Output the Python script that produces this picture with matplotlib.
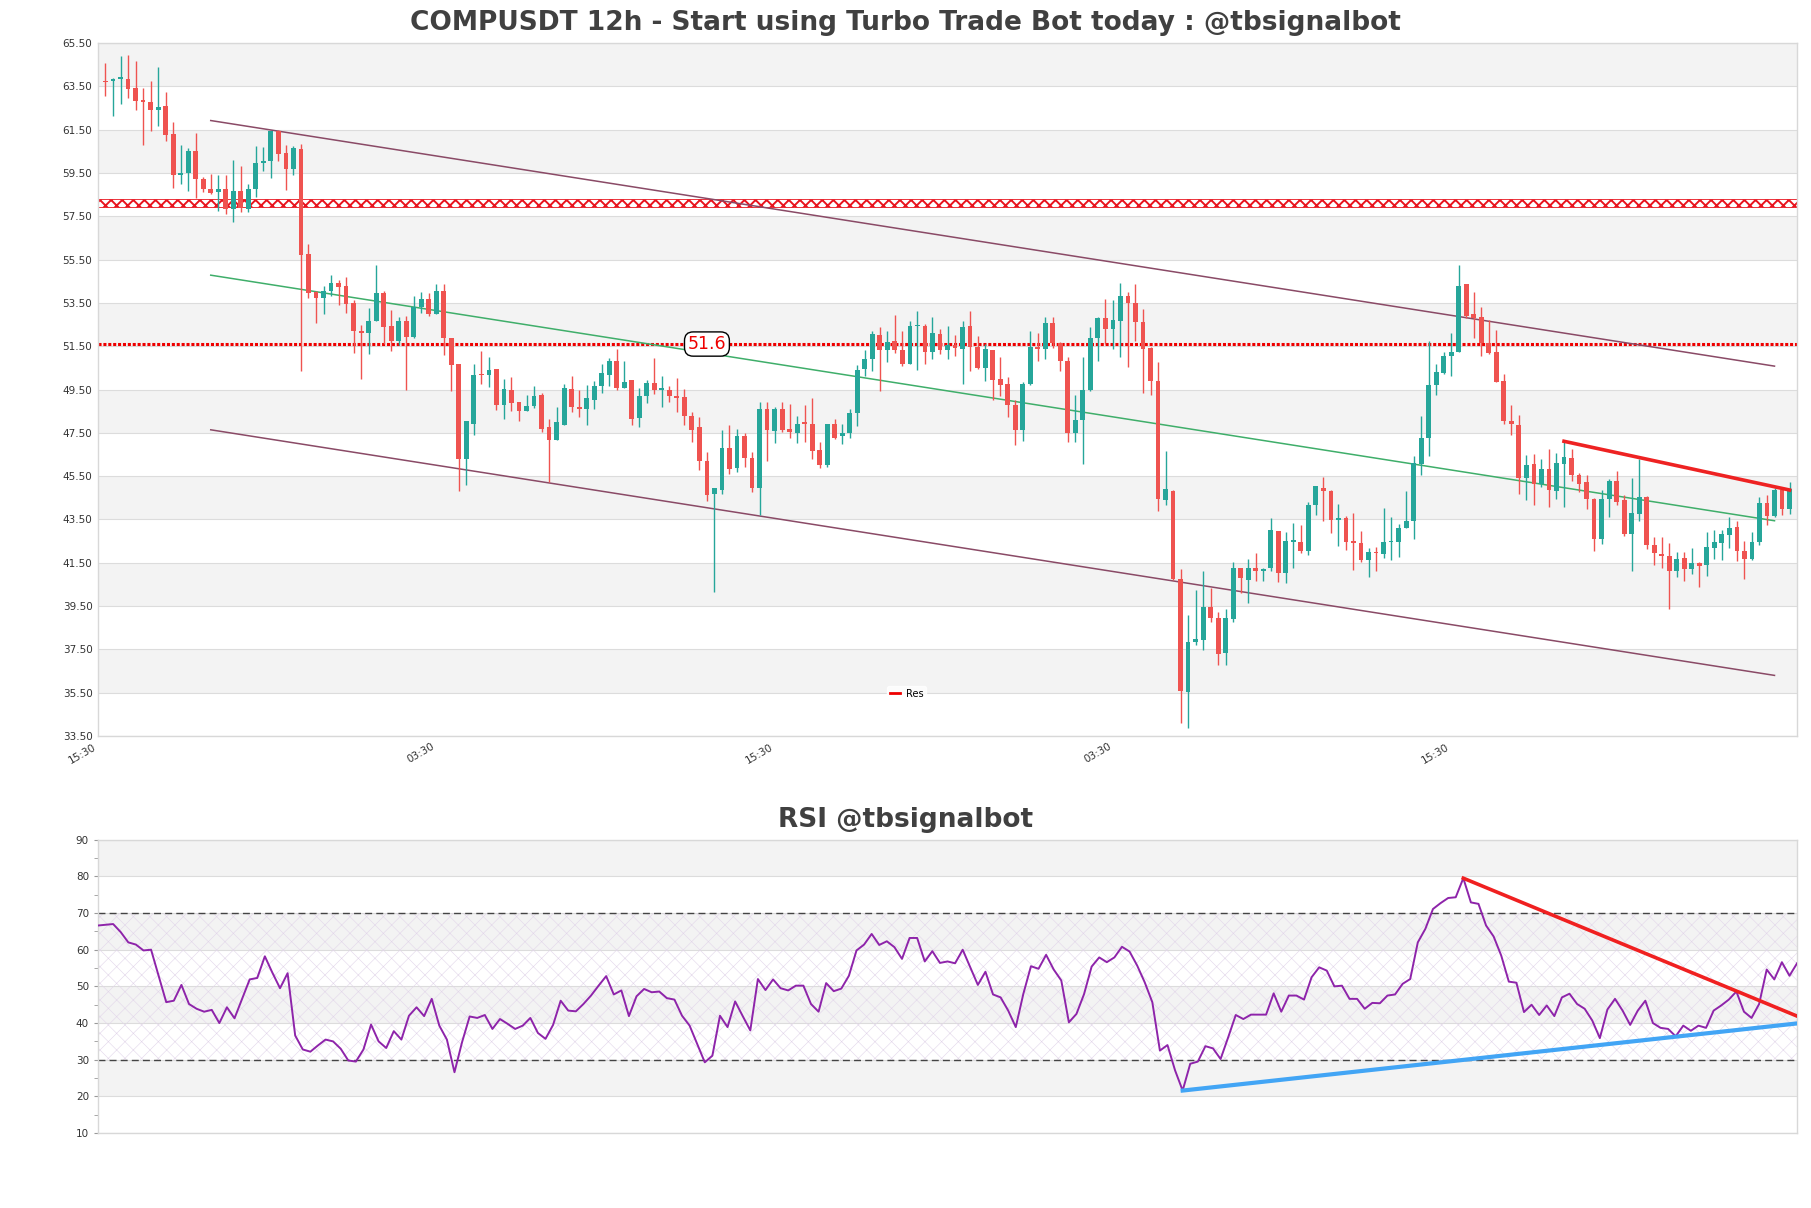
import numpy as np
import matplotlib
matplotlib.use("Agg")
import matplotlib.pyplot as plt
from matplotlib.lines import Line2D

# ---------------- data ----------------
opens = [63.73, 63.73, 63.85, 63.84, 63.42, 62.88, 62.78, 62.42, 62.58, 61.30,
         59.40, 59.50, 60.50, 59.20, 58.76, 58.60, 58.76, 57.85, 58.65, 57.85,
         58.76, 59.96, 60.04, 61.45, 60.42, 59.70, 60.60, 55.76, 54.00, 53.73,
         54.03, 54.42, 54.27, 53.50, 52.19, 52.11, 52.65, 53.96, 52.42, 51.75,
         52.65, 51.92, 53.30, 53.68, 52.99, 54.07, 51.88, 50.68, 46.28, 47.90,
         50.18, 50.15, 50.44, 48.80, 49.46, 48.92, 48.52, 48.72, 49.26, 47.75,
         47.15, 47.88, 49.52, 48.70, 48.59, 49.01, 49.65, 50.19, 50.82, 49.58,
         49.93, 48.19, 49.19, 49.78, 49.50, 49.50, 49.21, 49.16, 48.28, 47.75,
         46.21, 44.67, 44.85, 46.78, 45.88, 47.35, 46.32, 44.93, 48.62, 47.59,
         48.58, 47.70, 47.47, 47.98, 47.93, 46.70, 46.03, 47.93, 47.36, 47.50,
         48.42, 50.43, 50.93, 52.03, 51.31, 51.73, 51.34, 50.70, 52.42, 52.42,
         51.23, 52.08, 51.31, 51.57, 51.36, 52.43, 51.46, 50.49, 51.34, 50.00,
         49.77, 48.77, 47.62, 49.74, 51.46, 51.37, 52.55, 51.63, 50.83, 47.50,
         48.09, 49.50, 51.86, 52.78, 52.29, 52.66, 53.83, 53.50, 52.60, 51.43,
         49.89, 44.40, 44.83, 40.75, 35.55, 37.86, 37.94, 39.47, 38.97, 37.35,
         38.90, 41.24, 40.70, 41.27, 41.13, 41.24, 42.96, 41.01, 42.47, 42.47,
         42.04, 44.17, 44.97, 44.83, 43.47, 43.58, 42.47, 42.40, 41.63, 42.01,
         41.90, 42.44, 42.47, 43.12, 43.43, 46.04, 47.24, 49.70, 50.24, 51.06,
         51.24, 54.35, 53.01, 52.86, 51.63, 51.21, 49.88, 48.03, 47.88, 45.42,
         46.08, 45.15, 45.85, 44.80, 46.08, 46.34, 45.57, 45.23, 44.46, 42.62,
         44.46, 45.26, 44.38, 42.85, 43.74, 44.54, 42.34, 41.92, 41.82, 41.11,
         41.72, 41.20, 41.51, 41.38, 42.20, 42.43, 42.80, 43.15, 42.05, 41.66,
         42.46, 44.26, 43.65, 44.85, 43.97]
highs = [64.58, 63.90, 64.88, 64.96, 64.68, 63.40, 63.73, 64.38, 63.24, 61.85,
         60.80, 60.65, 61.35, 59.30, 59.45, 59.42, 59.42, 60.10, 59.80, 59.00,
         60.73, 60.70, 61.45, 61.50, 60.77, 60.73, 60.84, 56.20, 54.03, 54.27,
         54.80, 54.58, 54.68, 53.62, 52.46, 53.26, 55.24, 54.07, 53.19, 52.83,
         52.88, 53.80, 54.00, 53.96, 54.37, 54.37, 51.88, 50.68, 48.06, 50.68,
         51.26, 50.98, 50.44, 50.00, 50.06, 48.92, 49.26, 49.64, 49.34, 48.15,
         48.67, 49.75, 50.13, 49.47, 49.73, 49.90, 50.70, 50.96, 51.35, 50.81,
         49.93, 49.58, 49.96, 50.96, 50.13, 49.67, 50.04, 49.52, 48.47, 48.24,
         46.62, 44.93, 47.62, 47.88, 47.70, 47.47, 46.62, 48.93, 48.93, 48.70,
         48.93, 48.81, 48.28, 48.78, 49.12, 47.08, 47.93, 48.13, 47.90, 48.62,
         50.62, 51.31, 52.20, 52.39, 52.19, 52.96, 52.19, 52.65, 53.11, 52.54,
         52.85, 52.31, 52.43, 52.03, 52.66, 53.11, 51.97, 51.62, 51.34, 51.00,
         50.08, 49.00, 49.85, 52.20, 52.13, 52.86, 52.86, 51.70, 50.98, 49.27,
         51.00, 52.40, 52.86, 53.66, 53.63, 54.44, 54.01, 54.35, 53.20, 51.45,
         50.78, 46.66, 44.85, 41.21, 39.09, 40.24, 41.13, 40.32, 39.24, 39.37,
         41.55, 41.26, 41.66, 41.93, 41.24, 43.55, 42.98, 42.90, 43.35, 43.24,
         44.29, 45.06, 45.44, 44.85, 44.20, 43.67, 43.78, 42.96, 42.17, 42.24,
         44.01, 43.63, 43.29, 44.83, 46.44, 48.29, 51.73, 50.70, 51.21, 52.13,
         55.27, 54.37, 54.01, 53.32, 52.70, 52.24, 50.23, 48.77, 48.31, 46.46,
         46.54, 46.28, 46.77, 46.58, 47.11, 46.77, 45.65, 45.54, 44.48, 44.85,
         45.35, 45.72, 44.62, 45.42, 46.28, 44.58, 42.69, 42.69, 42.43, 42.00,
         42.00, 42.18, 41.54, 42.92, 43.03, 43.00, 43.62, 43.42, 42.49, 42.92,
         44.54, 44.62, 44.95, 44.95, 45.23]
lows = [63.04, 62.15, 62.70, 62.96, 62.42, 60.80, 61.42, 61.65, 60.96, 58.80,
        59.00, 58.65, 58.35, 58.62, 58.53, 57.76, 57.62, 57.22, 57.68, 57.68,
        58.38, 59.58, 59.27, 60.07, 58.73, 59.42, 50.35, 53.73, 52.58, 52.99,
        53.80, 53.42, 53.03, 51.18, 50.00, 51.15, 52.65, 51.60, 51.29, 51.54,
        49.49, 51.88, 53.03, 52.88, 52.99, 51.11, 49.41, 44.80, 45.10, 47.40,
        49.75, 49.61, 48.56, 48.15, 48.52, 48.03, 48.49, 48.64, 47.52, 45.22,
        47.15, 47.84, 48.47, 48.24, 47.88, 48.59, 49.32, 49.67, 49.47, 49.55,
        47.88, 47.78, 48.90, 49.28, 48.70, 48.93, 48.47, 47.85, 47.08, 45.78,
        44.35, 40.16, 44.67, 45.62, 45.70, 45.93, 44.75, 43.70, 46.21, 47.01,
        47.55, 47.27, 47.01, 47.08, 46.31, 45.88, 45.93, 47.20, 46.97, 47.26,
        47.82, 50.13, 50.36, 49.43, 50.77, 51.20, 50.59, 50.70, 50.39, 50.66,
        50.90, 51.16, 50.90, 51.03, 49.74, 50.34, 50.45, 49.90, 49.00, 49.19,
        48.23, 46.93, 47.11, 49.70, 50.80, 50.93, 51.40, 50.35, 47.09, 47.09,
        46.06, 49.45, 50.81, 51.58, 51.37, 51.00, 50.55, 51.74, 49.32, 49.27,
        43.89, 44.17, 40.70, 34.09, 33.86, 37.70, 37.47, 38.78, 36.78, 36.78,
        38.75, 40.09, 39.63, 40.66, 40.66, 41.13, 40.63, 40.55, 41.27, 41.93,
        41.86, 43.70, 43.43, 42.86, 42.27, 42.09, 41.17, 41.55, 40.86, 41.12,
        41.70, 41.63, 41.78, 43.10, 42.60, 45.55, 46.44, 49.27, 50.22, 50.13,
        51.22, 52.81, 51.86, 51.06, 51.15, 49.83, 47.92, 47.38, 44.69, 44.38,
        44.18, 45.00, 44.08, 44.43, 44.08, 45.26, 44.77, 43.97, 42.03, 42.38,
        43.62, 44.15, 42.74, 41.11, 43.42, 42.12, 41.42, 41.26, 39.38, 40.85,
        40.65, 41.00, 40.38, 40.89, 41.66, 41.62, 42.18, 41.57, 40.77, 41.62,
        42.34, 43.23, 43.62, 43.69, 43.77]
closes = [63.70, 63.84, 63.88, 63.39, 62.84, 62.76, 62.42, 62.55, 61.27, 59.40,
          59.50, 60.50, 59.20, 58.78, 58.58, 58.76, 57.85, 58.65, 57.88, 58.76,
          59.96, 60.04, 61.45, 60.39, 59.70, 60.65, 55.73, 53.96, 53.73, 54.03,
          54.42, 54.24, 53.46, 52.22, 52.11, 52.65, 53.96, 52.39, 51.75, 52.65,
          51.92, 53.30, 53.68, 52.99, 54.07, 51.88, 50.65, 46.30, 48.06, 50.18,
          50.15, 50.38, 48.80, 49.52, 48.87, 48.49, 48.72, 49.18, 47.69, 47.18,
          47.98, 49.55, 48.70, 48.62, 49.12, 49.67, 50.24, 50.82, 49.55, 49.85,
          48.13, 49.21, 49.78, 49.47, 49.55, 49.19, 49.12, 48.28, 47.62, 46.21,
          44.62, 44.93, 46.78, 45.85, 47.35, 46.32, 44.93, 48.62, 47.62, 48.58,
          47.64, 47.52, 47.93, 47.90, 46.65, 46.00, 47.93, 47.28, 47.51, 48.43,
          50.42, 50.93, 52.05, 51.31, 51.70, 51.31, 50.70, 52.43, 52.45, 51.23,
          52.13, 51.31, 51.57, 51.43, 52.39, 51.46, 50.49, 51.39, 49.93, 49.70,
          48.77, 47.65, 49.77, 51.46, 51.36, 52.55, 51.63, 50.83, 47.50, 48.09,
          49.50, 51.86, 52.78, 52.29, 52.73, 53.83, 53.50, 52.60, 51.37, 49.89,
          44.43, 44.90, 40.75, 35.58, 37.86, 37.97, 39.47, 38.97, 37.27, 38.93,
          41.24, 40.81, 41.27, 41.13, 41.21, 43.01, 41.01, 42.50, 42.50, 42.04,
          44.17, 45.04, 44.81, 43.47, 43.58, 42.47, 42.43, 41.63, 42.01, 41.93,
          42.44, 42.47, 43.12, 43.44, 46.12, 47.24, 49.73, 50.29, 51.06, 51.24,
          54.29, 52.90, 52.81, 51.63, 51.17, 49.86, 48.03, 47.89, 45.42, 46.03,
          45.15, 45.85, 44.85, 46.12, 46.38, 45.54, 45.15, 44.43, 42.62, 44.46,
          45.26, 44.31, 42.85, 43.82, 44.54, 42.31, 41.95, 41.82, 41.11, 41.69,
          41.23, 41.51, 41.35, 42.23, 42.46, 42.85, 43.11, 42.03, 41.66, 42.46,
          44.26, 43.65, 44.85, 43.97, 44.92]

rsi = [66.6, 66.8, 67.0, 64.8, 62.0, 61.4, 59.8, 60.0, 52.9, 45.7,
       46.1, 50.4, 45.2, 43.9, 43.1, 43.6, 40.0, 44.3, 41.3, 46.6,
       51.9, 52.3, 58.2, 53.7, 49.5, 53.6, 36.6, 32.8, 32.2, 33.9,
       35.5, 35.0, 33.0, 29.8, 29.5, 32.8, 39.6, 35.0, 33.2, 37.8,
       35.5, 42.0, 44.3, 41.9, 46.6, 39.3, 35.5, 26.6, 34.8, 41.8,
       41.4, 42.2, 38.4, 41.1, 39.8, 38.4, 39.3, 41.4, 37.3, 35.7,
       39.5, 46.1, 43.4, 43.2, 45.2, 47.5, 50.2, 52.8, 47.8, 48.9,
       41.9, 47.3, 49.3, 48.4, 48.6, 46.8, 46.4, 42.0, 39.3, 34.3,
       29.3, 31.1, 42.0, 38.9, 45.9, 41.9, 38.0, 52.0, 49.0, 51.9,
       49.5, 48.9, 50.2, 50.2, 45.2, 43.1, 50.9, 48.7, 49.4, 52.9,
       59.8, 61.4, 64.3, 61.3, 62.3, 60.7, 57.5, 63.2, 63.2, 56.8,
       59.6, 56.4, 56.8, 56.3, 60.0, 55.2, 50.4, 54.0, 47.8, 47.0,
       43.4, 38.9, 48.0, 55.5, 54.8, 58.6, 54.6, 51.6, 40.2, 42.5,
       47.9, 55.4, 57.9, 56.6, 57.9, 60.8, 59.5, 55.7, 51.1, 45.7,
       32.5, 34.0, 27.1, 21.6, 28.9, 29.5, 33.7, 33.1, 30.2, 36.1,
       42.2, 41.1, 42.3, 42.3, 42.3, 48.1, 43.1, 47.5, 47.5, 46.4,
       52.5, 55.2, 54.3, 50.0, 50.2, 46.6, 46.6, 43.9, 45.5, 45.4,
       47.5, 47.8, 50.7, 52.0, 62.0, 65.7, 71.1, 72.7, 74.1, 74.3,
       79.5, 72.9, 72.5, 66.6, 63.6, 58.4, 51.3, 51.0, 43.0, 45.0,
       42.2, 44.8, 41.9, 47.0, 48.0, 45.2, 43.9, 40.7, 35.9, 43.7,
       46.6, 43.4, 39.5, 43.4, 46.1, 40.0, 38.7, 38.4, 36.4, 39.3,
       37.9, 39.3, 38.7, 43.4, 44.8, 46.4, 48.6, 43.1, 41.4, 45.2,
       54.6, 51.9, 56.6, 52.9, 56.3]

x_tick_pos = [-1, 44, 89, 134, 179]
x_tick_labels = ["15:30", "03:30", "15:30", "03:30", "15:30"]

res_level = 51.6
zone_low, zone_high = 57.93, 58.32
channel_x = [14, 222]
channel_upper = [61.92, 50.58]
channel_mid = [54.78, 43.44]
channel_lower = [47.64, 36.30]
trend_x = [194, 224]
trend_y = [47.11, 44.86]
rsi_support_x = [143, 224]
rsi_support_y = [21.6, 39.9]
rsi_resist_x = [180, 224]
rsi_resist_y = [79.5, 41.9]

# ---------------- figure ----------------
fig = plt.figure(figsize=(18.11, 12.08), dpi=100)
fig.patch.set_facecolor("white")

UP = "#26a69a"
DOWN = "#ef5350"
BAND = "#f3f3f3"
GRID = "#dcdcdc"

ax = fig.add_axes([0.0541, 0.3907, 0.9382, 0.5737])
n = len(closes)
idx = np.arange(n)
o = np.array(opens); h = np.array(highs); l = np.array(lows); c = np.array(closes)
up = c >= o
cols = np.where(up, UP, DOWN)

ax.set_xlim(-1, 225)
ax.set_ylim(33.5, 65.5)
yt = np.arange(33.5, 65.51, 2)
for k, y0 in enumerate(yt[:-1]):
    if k % 2 == 1:
        ax.axhspan(y0, y0 + 2, color=BAND, zorder=0, lw=0)
for y0 in yt:
    ax.axhline(y0, color=GRID, lw=0.8, zorder=0.5)

ax.vlines(idx, l, h, colors=cols, lw=1.0, zorder=3)
body_h = np.maximum(np.abs(c - o), 0.06)
ax.bar(idx, body_h, bottom=np.minimum(o, c), width=0.64, color=cols, zorder=4, lw=0)

# hatched zone
plt.rcParams["hatch.linewidth"] = 1.4
zone = ax.axhspan(zone_low, zone_high, facecolor="none", edgecolor="#e8141e",
                  hatch="xxx", lw=0.6, zorder=2)
try:
    zone.set_hatch_linewidth(1.4)
except Exception:
    pass

# resistance dotted line
ax.axhline(res_level, color="#ee0000", lw=2.2, ls=(0, (1, 0.6)), zorder=2)
ax.text(80, res_level, "51.6", color="#ee0000", fontsize=12.5, ha="center", va="center",
        zorder=6, bbox=dict(boxstyle="round,pad=0.18,rounding_size=0.5", fc="white", ec="black", lw=1))

# channel
ax.plot(channel_x, channel_upper, color="#8a4a66", lw=1.1, zorder=2.5)
ax.plot(channel_x, channel_lower, color="#8a4a66", lw=1.1, zorder=2.5)
ax.plot(channel_x, channel_mid, color="#3fae6a", lw=1.1, zorder=2.5)
ax.plot(trend_x, trend_y, color="#ee2222", lw=2.6, zorder=5)

ax.set_yticks(yt)
ax.set_yticklabels([f"{v:.2f}" for v in yt])
ax.set_xticks(x_tick_pos)
ax.set_xticklabels(x_tick_labels, rotation=30, ha="right")
ax.tick_params(axis="both", labelsize=7.5, colors="#333333", length=0, pad=4)
for s in ax.spines.values():
    s.set_color("#d8d8d8")
    s.set_linewidth(1)

leg = ax.legend(handles=[Line2D([0], [0], color="#ee0000", lw=2, label="Res")],
                loc="center", bbox_to_anchor=(0.476, 0.061), fontsize=7,
                frameon=True, handlelength=1.0, handletextpad=0.6, borderpad=0.3)
leg.get_frame().set_edgecolor("white")
leg.get_frame().set_facecolor("white")

fig.text(0.5, 0.981, "COMPUSDT 12h - Start using Turbo Trade Bot today : @tbsignalbot",
         ha="center", va="center", fontsize=19, fontweight="bold", color="#404040")

# ---------------- RSI ----------------
ax2 = fig.add_axes([0.0541, 0.0620, 0.9382, 0.2429])
ax2.set_xlim(0, n - 1)
ax2.set_ylim(10, 90)
for k, y0 in enumerate(range(10, 90, 10)):
    if k % 2 == 1:
        ax2.axhspan(y0, y0 + 10, color=BAND, zorder=0, lw=0)
for y0 in range(10, 91, 10):
    ax2.axhline(y0, color=GRID, lw=0.8, zorder=0.5)
plt.rcParams["hatch.linewidth"] = 0.4
hz = ax2.axhspan(30, 70, facecolor="none", edgecolor="#e2d6ea", hatch="xx", lw=0, zorder=1)
try:
    hz.set_hatch_linewidth(0.4)
except Exception:
    pass
ax2.axhline(70, color="#444444", lw=1.0, ls=(0, (5, 3)), zorder=2)
ax2.axhline(30, color="#444444", lw=1.0, ls=(0, (5, 3)), zorder=2)
ax2.plot(idx, rsi, color="#8e24aa", lw=1.4, zorder=3)
ax2.plot(rsi_support_x, rsi_support_y, color="#42a5f5", lw=3, zorder=4)
ax2.plot(rsi_resist_x, rsi_resist_y, color="#f02020", lw=2.6, zorder=4)

ax2.set_yticks(range(10, 91, 10))
ax2.set_yticks(range(15, 90, 10), minor=True)
ax2.set_xticks([])
ax2.tick_params(axis="y", which="major", labelsize=7.5, colors="#333333", length=3)
ax2.tick_params(axis="y", which="minor", length=3, color="#999999")
ax2.tick_params(axis="y", which="major", color="#999999")
for s in ax2.spines.values():
    s.set_color("#d8d8d8")
    s.set_linewidth(1)

fig.text(0.5, 0.3212, "RSI @tbsignalbot", ha="center", va="center",
         fontsize=19, fontweight="bold", color="#404040")

fig.savefig("out.png", dpi=100, facecolor="white")
